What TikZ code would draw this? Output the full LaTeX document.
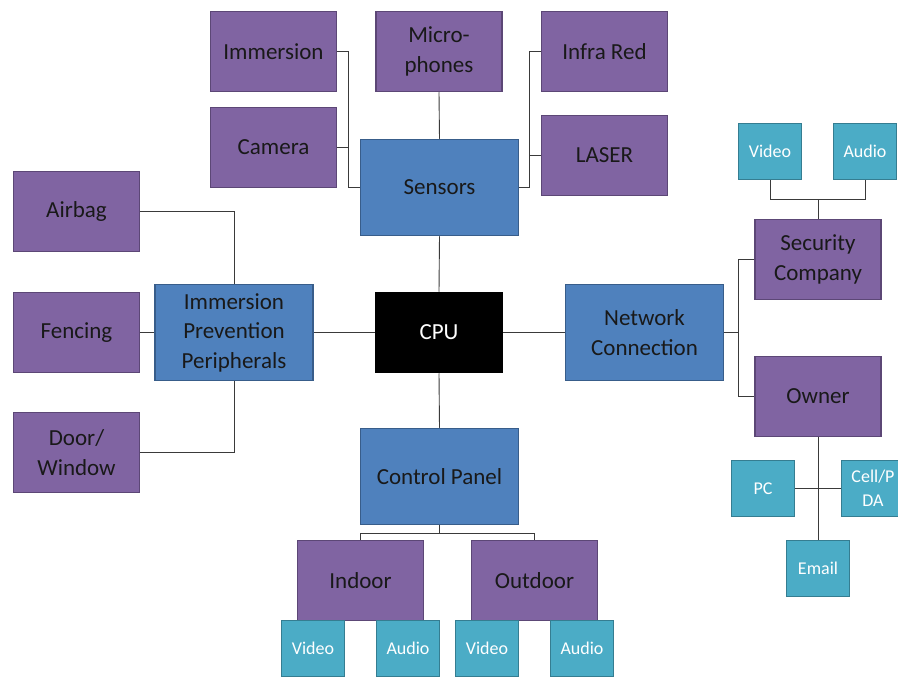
\documentclass[tikz,border=0pt]{standalone}
\usepackage{fontspec}
\setmainfont{Carlito}
\usetikzlibrary{positioning}

\definecolor{purplefill}{HTML}{8064A2}
\definecolor{purpleline}{HTML}{5C4776}
\definecolor{bluefill}{HTML}{4F81BD}
\definecolor{blueline}{HTML}{385D8A}
\definecolor{tealfill}{HTML}{4BACC6}
\definecolor{tealline}{HTML}{357D91}
\definecolor{wire}{HTML}{3A3A3A}

\begin{document}
\begin{tikzpicture}[x=1pt,y=-1pt,
    box/.style={rectangle,inner sep=0pt,align=center,line width=1.5pt,text=black!90,font=\fontsize{23}{29.5}\selectfont},
    item/.style={box,fill=purplefill,draw=purpleline,minimum width=126pt,minimum height=80pt},
    hub/.style={box,fill=bluefill,draw=blueline,minimum width=158pt,minimum height=96pt},
    leaf/.style={box,fill=tealfill,draw=tealline,text=white,minimum width=63pt,minimum height=56pt,font=\fontsize{18}{24}\selectfont},
    link/.style={draw=wire,line width=0.9pt}]
  \useasboundingbox (0,0) rectangle (898,677);
  \clip (0,0) rectangle (898,677);
  \fill[white] (0,0) rectangle (898,677);

  % sensors
  \node[item] (immersion) at (273.5,51.5) {Immersion};
  \node[item] (camera) at (273.5,147.5) {Camera};
  \node[item] (mic) at (439,51.5) {Micro-\\phones};
  \node[item] (infrared) at (604.5,51.5) {Infra Red};
  \node[item] (laser) at (604.5,155.5) {LASER};
  \node[hub] (sensors) at (439.5,187.5) {Sensors};

  % immersion prevention
  \node[item] (airbag) at (76.5,211.5) {Airbag};
  \node[item] (fencing) at (76.5,332.5) {Fencing};
  \node[item] (door) at (76.5,452.5) {Door/\\Window};
  \node[hub] (ipp) at (234,332.5) {Immersion\\Prevention\\Peripherals};

  \node[box,fill=black,draw=black,text=white,minimum width=127pt,minimum height=80pt] (cpu) at (439,332.5) {CPU};

  % network
  \node[hub] (network) at (644.5,332.5) {Network\\Connection};
  \node[item] (security) at (818,259.5) {Security\\Company};
  \node[leaf] (secvideo) at (770,151.5) {Video};
  \node[leaf] (secaudio) at (865,151.5) {Audio};
  \node[item] (owner) at (818,396.5) {Owner};
  \node[leaf] (pc) at (763,488.5) {PC};
  \node[leaf] (cell) at (873,488.5) {Cell/P\\DA};
  \node[leaf] (email) at (818,568.5) {Email};

  % control panel
  \node[hub] (panel) at (439.5,476.5) {Control Panel};
  \node[item] (indoor) at (360.5,580.5) {Indoor};
  \node[item] (outdoor) at (534.5,580.5) {Outdoor};
  \node[leaf] (invideo) at (313,648.5) {Video};
  \node[leaf] (inaudio) at (408,648.5) {Audio};
  \node[leaf] (outvideo) at (487,648.5) {Video};
  \node[leaf] (outaudio) at (582,648.5) {Audio};

  \draw[link] (immersion.east) -- ++(11,0) |- (sensors.west);
  \draw[link] (camera.east) -- ++(11,0) |- (sensors.west);
  \draw[link] (infrared.west) -- ++(-11,0) |- (sensors.east);
  \draw[link] (laser.west) -- ++(-11,0) |- (sensors.east);
  \draw[link] (mic.south) -- (sensors.north);
  \draw[link] (sensors.south) -- (cpu.north);

  \draw[link] (airbag.east) -| (ipp.north);
  \draw[link] (fencing.east) -- (ipp.west);
  \draw[link] (door.east) -| (ipp.south);
  \draw[link] (ipp.east) -- (cpu.west);

  \draw[link] (cpu.east) -- (network.west);
  \draw[link] (network.east) -- ++(14,0) |- (security.west);
  \draw[link] (network.east) -- ++(14,0) |- (owner.west);
  \draw[link] (security.north) -- ++(0,-19) -| (secvideo.south);
  \draw[link] (security.north) -- ++(0,-19) -| (secaudio.south);
  \draw[link] (owner.south) -- (email.north);
  \draw[link] (pc.east) -- (cell.west);

  \draw[link] (cpu.south) -- (panel.north);
  \draw[link] (panel.south) -- ++(0,8) -| (indoor.north);
  \draw[link] (panel.south) -- ++(0,8) -| (outdoor.north);
\end{tikzpicture}
\end{document}
